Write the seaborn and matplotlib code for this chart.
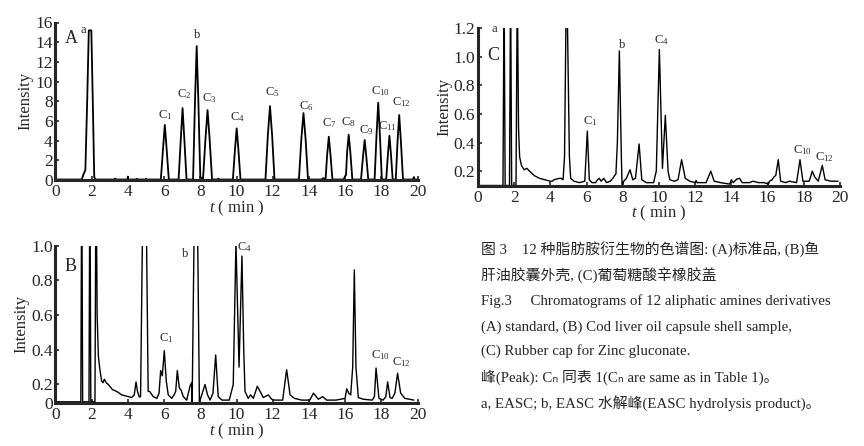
import pandas as pd
import matplotlib
matplotlib.use('Agg')
import matplotlib.pyplot as plt
import seaborn as sns

# (A) standard
a_time = [0, 1.45, 1.55, 1.65, 1.75, 1.84, 1.98, 2.06, 2.14, 2.22,
          3.25, 3.3, 3.35, 3.98, 4.0, 4.02, 4.45, 4.5, 4.55, 4.95, 5.0, 5.05,
          5.82, 5.95, 6.04, 6.13, 6.26,
          6.8, 6.93, 7.02, 7.11, 7.24,
          7.6, 7.71, 7.8, 7.89, 8.0,
          8.15, 8.29, 8.4, 8.51, 8.65,
          8.95, 9.0, 9.05,
          9.8, 9.92, 10.01, 10.1, 10.22,
          11.6, 11.73, 11.85, 11.97, 12.1,
          13.45, 13.58, 13.7, 13.82, 13.95,
          14.7, 14.8, 14.9,
          14.92, 15.01, 15.1, 15.19, 15.3,
          15.92, 16.0, 16.05, 16.11, 16.2, 16.29, 16.4,
          16.88, 16.99, 17.08, 17.17, 17.28,
          17.63, 17.74, 17.83, 17.92, 18.03,
          18.27, 18.37, 18.45, 18.53, 18.63,
          18.8, 18.9, 18.99, 19.08, 19.2,
          19.76, 19.8, 19.84, 20]
a_intensity = [0.05, 0.05, 0.6, 1.0, 8.0, 15.2, 15.2, 8.0, 0.3, 0.05,
               0.05, 0.15, 0.05, 0.05, 0.35, 0.05, 0.05, 0.12, 0.05, 0.05, 0.15, 0.05,
               0.05, 3.4, 5.6, 3.4, 0.05,
               0.05, 4.4, 7.3, 4.4, 0.05,
               0.05, 8.2, 13.6, 8.2, 0.3,
               0.1, 4.3, 7.1, 4.3, 0.05,
               0.05, 0.15, 0.05,
               0.05, 3.2, 5.25, 3.2, 0.05,
               0.05, 4.5, 7.5, 4.5, 0.05,
               0.05, 4.1, 6.8, 4.1, 0.05,
               0.05, 0.2, 0.05,
               0.05, 2.6, 4.4, 2.6, 0.05,
               0.05, 0.4, 0.5, 2.8, 4.6, 2.8, 0.05,
               0.05, 2.4, 4.07, 2.4, 0.05,
               0.05, 4.7, 7.85, 4.7, 0.05,
               0.05, 2.7, 4.5, 2.7, 0.05,
               0.05, 4.0, 6.6, 4.0, 0.05,
               0.05, 0.3, 0.05, 0.05]
a_labels = ['a', 'b', 'C$_1$', 'C$_2$', 'C$_3$', 'C$_4$', 'C$_5$', 'C$_6$', 'C$_7$', 'C$_8$',
            'C$_9$', 'C$_{10}$', 'C$_{11}$', 'C$_{12}$']
a_label_t = [1.55, 7.8, 6.05, 7.1, 8.5, 10.05, 11.95, 13.85, 15.1, 16.2, 17.15, 17.95, 18.35, 19.1]
a_label_y = [14.6, 14.1, 5.9, 8.0, 7.6, 5.7, 8.2, 6.8, 5.1, 5.2, 4.4, 8.3, 4.8, 7.2]

# (B) cod liver oil capsule shell
b_time = [0, 1.4, 1.45, 1.5, 1.85, 1.9, 1.95, 2.18, 2.24, 2.3, 2.37, 2.46, 2.55, 2.62, 2.7, 2.8,
          2.92, 3.15, 3.38, 3.66, 4.02, 4.21, 4.35, 4.45, 4.53, 4.63, 4.7, 4.92, 5.12, 5.2, 5.4,
          5.6, 5.72, 5.81, 5.9, 6.01, 6.12, 6.23, 6.42, 6.55, 6.64, 6.73, 6.84, 6.93, 7.06,
          7.25, 7.43, 7.52, 7.55, 7.76, 7.95, 8.05, 8.26, 8.4, 8.54, 8.7, 8.85, 8.99, 9.2, 9.6,
          9.82, 9.97, 10.14, 10.3, 10.4, 10.47, 10.65, 10.78, 10.93, 11.15, 11.48, 11.76, 11.94,
          12.1, 12.55, 12.77, 12.96, 13.2, 13.6, 14.05, 14.25, 14.52, 14.76, 14.98, 15.5, 16.0,
          16.09, 16.2, 16.31, 16.42, 16.51, 16.6, 16.73, 17.0, 17.5, 17.62, 17.71, 17.87, 18.1,
          18.25, 18.35, 18.48, 18.6, 18.75, 18.9, 19.07, 19.3, 19.8]
b_intensity = [0.1, 0.1, 1.5, 0.1, 0.1, 1.5, 0.1, 0.1, 1.5, 0.6, 0.36, 0.28, 0.22, 0.21, 0.23, 0.21,
               0.2, 0.17, 0.16, 0.14, 0.13, 0.125, 0.14, 0.215, 0.16, 0.128, 0.13, 2.1, 0.16, 0.16, 0.13,
               0.12, 0.15, 0.28, 0.25, 0.395, 0.22, 0.14, 0.12, 0.14, 0.16, 0.28, 0.18, 0.17, 0.13,
               0.11, 0.19, 0.21, 0.1, 2.0, 0.1, 0.13, 0.2, 0.14, 0.11, 0.15, 0.37, 0.13, 0.11, 0.11,
               0.2, 1.02, 0.3, 0.94, 0.4, 0.16, 0.12, 0.14, 0.12, 0.19, 0.125, 0.14, 0.115,
               0.11, 0.11, 0.285, 0.14, 0.12, 0.11, 0.11, 0.15, 0.115, 0.13, 0.11, 0.11, 0.12,
               0.175, 0.15, 0.14, 0.3, 0.86, 0.3, 0.125, 0.115, 0.11, 0.13, 0.295, 0.12, 0.11,
               0.13, 0.215, 0.125, 0.12, 0.15, 0.265, 0.15, 0.12, 0.11]
b_labels = ['b', 'C$_1$', 'C$_4$', 'C$_{10}$', 'C$_{12}$']
b_label_t = [7.15, 6.1, 10.45, 17.95, 19.1]
b_label_y = [0.92, 0.43, 0.95, 0.33, 0.29]

# (C) rubber cap for zinc gluconate
c_time = [0, 1.38, 1.44, 1.5, 1.74, 1.8, 1.86, 2.1, 2.17, 2.24, 2.3, 2.4, 2.55, 2.7, 2.85, 3.1,
          3.4, 3.7, 4.0, 4.1, 4.2, 4.35, 4.5, 4.6, 4.7, 4.78, 4.86, 4.94, 5.05, 5.12, 5.3, 5.6,
          5.9, 6.04, 6.15, 6.3, 6.5, 6.6, 6.7, 6.8, 6.95, 7.1, 7.3, 7.45, 7.55, 7.62, 7.7, 7.81,
          7.92, 7.96, 8.05, 8.2, 8.4, 8.55, 8.7, 8.9, 9.05, 9.3, 9.7, 9.85, 10.02, 10.19, 10.35,
          10.5, 10.6, 10.85, 11.05, 11.25, 11.45, 11.7, 12.0, 12.05, 12.1, 12.6, 12.86, 13.05,
          13.4, 13.9, 14.0, 14.1, 14.3, 14.45, 14.6, 15.0, 15.2, 15.5, 15.8, 16.05, 16.1, 16.25,
          16.35, 16.45, 16.59, 16.72, 17.0, 17.2, 17.6, 17.79, 17.95, 18.3, 18.47, 18.6, 18.8,
          19.02, 19.18, 19.5, 19.9]
c_intensity = [0.1, 0.1, 1.5, 0.1, 0.1, 1.5, 0.1, 0.1, 1.5, 0.5, 0.3, 0.24, 0.21, 0.22, 0.2, 0.17,
               0.15, 0.14, 0.13, 0.13, 0.14, 0.145, 0.15, 0.15, 0.14, 0.3, 1.25, 1.25, 0.3, 0.15, 0.13, 0.12,
               0.13, 0.48, 0.14, 0.12, 0.12, 0.14, 0.15, 0.13, 0.15, 0.12, 0.13, 0.15, 0.17, 0.18, 0.4, 1.04,
               0.3, 0.1, 0.13, 0.15, 0.21, 0.14, 0.15, 0.39, 0.14, 0.12, 0.12, 0.2, 1.05, 0.22, 0.59,
               0.2, 0.14, 0.13, 0.14, 0.28, 0.15, 0.13, 0.12, 0.135, 0.12, 0.12, 0.2, 0.13,
               0.12, 0.11, 0.14, 0.12, 0.145, 0.15, 0.12, 0.12, 0.13, 0.12, 0.12, 0.11, 0.13, 0.14,
               0.16, 0.17, 0.28, 0.13, 0.12, 0.13, 0.12, 0.28, 0.13, 0.13, 0.2, 0.16, 0.13,
               0.24, 0.14, 0.13, 0.13]
c_labels = ['a', 'b', 'C$_1$', 'C$_4$', 'C$_{10}$', 'C$_{12}$']
c_label_t = [0.9, 7.95, 6.2, 10.15, 17.95, 19.15]
c_label_y = [1.15, 1.04, 0.5, 1.07, 0.3, 0.25]

caption = [
    '图 3　12 种脂肪胺衍生物的色谱图: (A)标准品, (B)鱼',
    '肝油胶囊外壳, (C)葡萄糖酸辛橡胶盖',
    'Fig.3　 Chromatograms of 12 aliphatic amines derivatives',
    '(A) standard, (B) Cod liver oil capsule shell sample,',
    '(C) Rubber cap for Zinc gluconate.',
    '峰(Peak): Cₙ 同表 1(Cₙ are same as in Table 1)。',
    'a, EASC; b, EASC 水解峰(EASC hydrolysis product)。',
]

sns.set_style('ticks')
plt.rcParams['font.family'] = ['Liberation Serif', 'Noto Sans CJK SC', 'DejaVu Sans']
plt.rcParams['mathtext.fontset'] = 'custom'
plt.rcParams['mathtext.rm'] = 'Liberation Serif'
plt.rcParams['mathtext.it'] = 'Liberation Serif:italic'

fig = plt.figure(figsize=(8.64, 4.46), dpi=100)
W, H = 864, 446


def make_axes(left, top, bottom):
    return fig.add_axes([left / W, 1 - bottom / H, 362 / W, (bottom - top) / H])


def draw(ax, t, y, ylim, yticks, yticklabels, letter, letter_xy, labels, lt, ly, lw=1.0):
    df = pd.DataFrame({'t': t, 'y': y})
    sns.lineplot(data=df, x='t', y='y', ax=ax, color='black', linewidth=lw,
                 estimator=None, sort=False)
    ax.set_xlim(0, 20)
    ax.set_ylim(*ylim)
    ax.set_xticks(range(0, 21, 2))
    ax.set_yticks(yticks)
    ax.set_yticklabels(yticklabels)
    ax.tick_params(direction='in', length=3, width=1.2, labelsize=12.5)
    ax.tick_params(axis='x', pad=3)
    ax.tick_params(axis='y', pad=2)
    for s in ['top', 'right']:
        ax.spines[s].set_visible(False)
    for s in ['left', 'bottom']:
        ax.spines[s].set_linewidth(2.2)
    ax.set_xlabel('$t$ ( min )', fontsize=12, labelpad=-1)
    ax.set_ylabel('Intensity', fontsize=12, labelpad=1)
    ax.text(letter_xy[0], letter_xy[1], letter, transform=ax.transAxes, fontsize=13,
            ha='left', va='top')
    for name, x, yy in zip(labels, lt, ly):
        ax.text(x, yy, name, fontsize=9, ha='center', va='bottom')


ax_a = make_axes(55.5, 22.5, 180)
draw(ax_a, a_time, a_intensity, (0, 16), range(0, 17, 2), [str(v) for v in range(0, 17, 2)],
     'A', (0.025, 0.95), a_labels, a_label_t, a_label_y, lw=1.3)

ax_c = make_axes(478, 28, 185.5)
draw(ax_c, c_time, c_intensity, (0.1, 1.2), [0.2, 0.4, 0.6, 0.8, 1.0, 1.2],
     ['0.2', '0.4', '0.6', '0.8', '1.0', '1.2'],
     'C', (0.025, 0.88), c_labels, c_label_t, c_label_y)

ax_b = make_axes(55.5, 245.7, 402.7)
draw(ax_b, b_time, b_intensity, (0.095, 1.0), [0.095, 0.2, 0.4, 0.6, 0.8, 1.0],
     ['0', '0.2', '0.4', '0.6', '0.8', '1.0'],
     'B', (0.025, 0.92), b_labels, b_label_t, b_label_y)

line_y = [250, 275, 301, 327, 351, 377, 403]
for text, yy in zip(caption, line_y):
    fig.text(481 / W, 1 - yy / H, text, fontsize=10.7, ha='left', va='center')

fig.savefig('out.png', dpi=100)
